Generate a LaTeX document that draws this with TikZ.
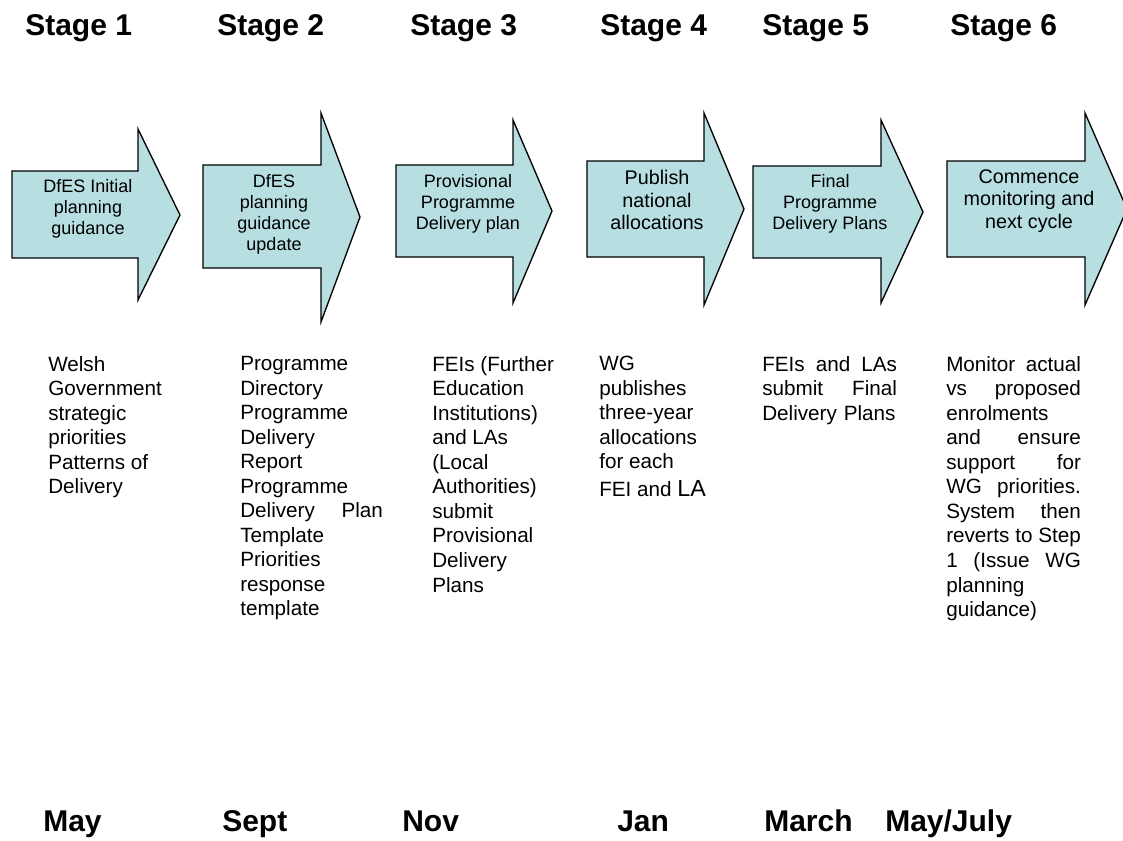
\documentclass[tikz,border=0pt]{standalone}
\usepackage{fontspec}
\setmainfont{Liberation Sans}
\setlength{\parindent}{0pt}
\definecolor{arrowfill}{RGB}{183,222,225}
\tikzstyle{bigarrow} = [draw=black, fill=arrowfill, line width=1pt, line join=miter]
\tikzstyle{stage} = [anchor=base west, inner sep=0pt,
    font=\fontsize{22.5}{27}\selectfont\bfseries]
\tikzstyle{month} = [anchor=base west, inner sep=0pt,
    font=\fontsize{22.5}{27}\selectfont\bfseries]
\tikzstyle{arrowtext} = [anchor=north, inner sep=0pt, align=center,
    font=\fontsize{13.5}{15.75}\selectfont]
\tikzstyle{arrowbig} = [anchor=north, inner sep=0pt, align=center,
    font=\fontsize{14.8}{16.9}\selectfont]
\tikzstyle{detail} = [anchor=north west, inner sep=0pt, align=left,
    font=\fontsize{15.5}{18.4}\selectfont]

\begin{document}
\begin{tikzpicture}[x=0.75pt, y=-0.75pt]
        \useasboundingbox (0,0) rectangle (1123,840);

        \node[stage] (s1) at (25,35) {Stage 1};
        \node[stage] (s2) at (217,35) {Stage 2};
        \node[stage] (s3) at (410,35) {Stage 3};
        \node[stage] (s4) at (600,35) {Stage 4};
        \node[stage] (s5) at (762,35) {Stage 5};
        \node[stage] (s6) at (950,35) {Stage 6};

        % the six arrows
        \draw[bigarrow] (12,171) -- (138,171) -- (138,129) -- (180,215) -- (138,300) -- (138,258) -- (12,258) -- cycle;
        \draw[bigarrow] (203,165) -- (321,165) -- (321,113) -- (360,217) -- (321,322) -- (321,268) -- (203,268) -- cycle;
        \draw[bigarrow] (396,165) -- (513,165) -- (513,120) -- (552,211) -- (513,303) -- (513,257) -- (396,257) -- cycle;
        \draw[bigarrow] (587,161) -- (704,161) -- (704,113) -- (744,209) -- (704,305) -- (704,257) -- (587,257) -- cycle;
        \draw[bigarrow] (753,166) -- (881,166) -- (881,120) -- (923,212) -- (881,303) -- (881,258) -- (753,258) -- cycle;
        \draw[bigarrow] (947,161) -- (1085,161) -- (1085,113) -- (1127,209) -- (1085,305) -- (1085,257) -- (947,257) -- cycle;

        \node[arrowtext] (a1) at (88,179) {DfES Initial\\planning\\guidance};
        \node[arrowtext] (a2) at (274,174) {DfES\\planning\\guidance\\update};
        \node[arrowtext] (a3) at (468,174) {Provisional\\Programme\\Delivery plan};
        \node[arrowbig] (a4) at (657,170) {Publish\\national\\allocations};
        \node[arrowtext] (a5) at (830,174) {Final\\Programme\\Delivery Plans};
        \node[arrowbig] (a6) at (1029,169) {Commence\\monitoring and\\next cycle};

        % what happens at each stage
        \node[detail] (d1) at (48,356) {Welsh\\Government\\strategic\\priorities\\Patterns of\\Delivery};
        \node[detail, text width=107pt] (d2) at (240,356) {Programme\\Directory\\Programme\\Delivery\\Report\\Programme\\Delivery\hfill Plan\\Template\\Priorities\\response\\template};
        \node[detail] (d3) at (432,356) {FEIs (Further\\Education\\Institutions)\\and LAs\\(Local\\Authorities)\\submit\\Provisional\\Delivery\\Plans};
        \node[detail] (d4) at (599,356) {WG\\publishes\\three-year\\allocations\\for each\\[2.5pt]FEI and {\fontsize{17.5}{18.4}\selectfont LA}};
        \node[detail, text width=101pt] (d5) at (762,356) {FEIs\hfill and\hfill LAs\\submit\hfill Final\\Delivery Plans};
        \node[detail, text width=101pt] (d6) at (946,356) {Monitor\hfill actual\\vs\hfill proposed\\enrolments\\and\hfill ensure\\support\hfill for\\WG\hfill priorities.\\System\hfill then\\reverts\hfill to\hfill Step\\1\hfill (Issue\hfill WG\\planning\\guidance)};

        \node[month] (m1) at (43,831) {May};
        \node[month] (m2) at (222,831) {Sept};
        \node[month] (m3) at (402,831) {Nov};
        \node[month] (m4) at (617,831) {Jan};
        \node[month] (m5) at (764,831) {March};
        \node[month] (m6) at (885,831) {May/July};
\end{tikzpicture}
\end{document}
